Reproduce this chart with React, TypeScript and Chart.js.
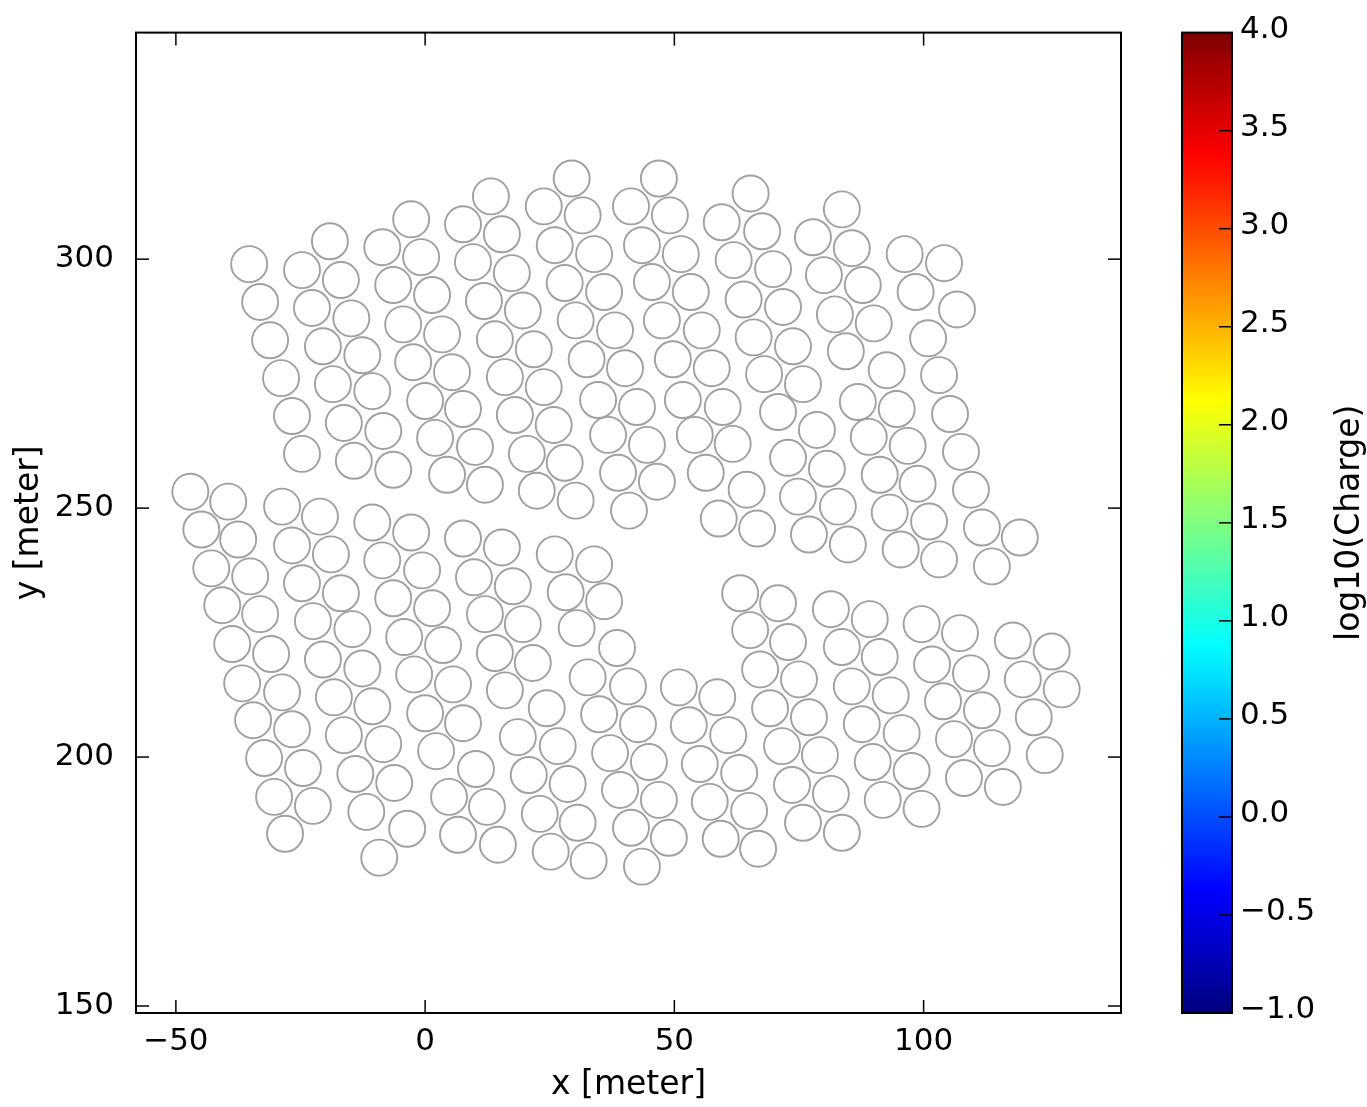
import React, { useEffect, useRef } from 'react';
import { Chart, registerables } from 'chart.js';

Chart.register(...registerables);

// Tank positions (metres), upper group of strings
const upperX = [
  -35.3, -33.1, -31.1, -28.9, -26.7, -24.7,
  -24.7, -22.7, -20.5, -18.5, -16.3, -14.3,
  -19.1, -16.9, -14.8, -12.6, -10.6, -8.4, -6.4,
  -8.6, -6.4, -4.4, -2.4, 0, 2, 4.4,
  -2.8, -0.8, 1.4, 3.4, 5.4, 7.6, 10, 12,
  7.6, 9.6, 11.8, 14, 16, 18, 20.4, 22.4,
  13.2, 15.4, 17.4, 19.6, 21.8, 23.8, 25.8, 28, 30.2,
  23.8, 26, 28, 30.2, 32.4, 34.7, 36.7, 38.7, 40.9,
  29.4, 31.6, 33.9, 35.9, 38.1, 40.1, 42.5, 44.5, 46.5,
  41.3, 43.5, 45.5, 47.5, 49.7, 51.7, 54.1, 56.3, 58.9,
  46.9, 49.1, 51.3, 53.3, 55.5, 57.5, 59.7, 61.7, 64.5, 66.6,
  59.5, 61.9, 63.9, 65.9, 68.0, 70.8, 72.8, 74.8, 77.0,
  65.3, 67.6, 69.8, 71.8, 73.8, 75.8, 78.6, 80.6, 82.8, 84.8,
  77.8, 80.0, 82.2, 84.4, 86.8, 89.0, 91.2, 93.2, 95.4,
  83.6, 85.6, 87.8, 90.0, 92.6, 94.6, 96.8, 98.8, 101.1, 103.1,
  96.2, 104.1, 98.4, 106.7, 100.9, 103.1, 105.3, 107.5, 109.5, 111.7, 113.7, 119.3,
];
const upperY = [
  299.0, 291.4, 283.7, 276.1, 268.5, 260.9,
  297.8, 290.2, 282.5, 274.9, 267.1, 259.5,
  303.6, 295.8, 288.1, 280.7, 273.5, 265.5, 257.7,
  302.4, 294.8, 286.9, 279.3, 271.5, 264.1, 256.7,
  308.0, 300.4, 292.8, 284.9, 277.3, 269.9, 262.3, 254.7,
  307.0, 299.4, 291.6, 283.9, 276.3, 268.7, 260.9, 253.5,
  312.6, 305.0, 297.2, 289.7, 281.9, 274.3, 266.7, 259.1, 251.5,
  310.6, 302.8, 295.2, 287.7, 279.9, 271.7, 264.7, 257.1, 249.5,
  316.2, 308.8, 301.0, 293.4, 285.7, 278.1, 270.3, 262.7, 255.3,
  310.6, 302.8, 295.4, 287.7, 279.9, 271.7, 264.7, 257.1, 247.9,
  316.2, 308.8, 301.0, 293.4, 285.7, 278.1, 270.3, 262.9, 253.7, 245.9,
  307.4, 299.8, 291.9, 284.3, 276.9, 269.3, 260.1, 252.3, 244.7,
  313.2, 305.6, 298.0, 290.4, 282.5, 274.9, 265.7, 257.9, 250.3, 242.7,
  304.4, 296.8, 288.9, 281.5, 271.3, 264.3, 256.7, 249.1, 241.7,
  310.0, 302.2, 294.8, 287.1, 277.7, 269.9, 262.5, 254.9, 247.3, 239.7,
  301.0, 299.2, 293.4, 289.9, 284.1, 276.7, 268.9, 261.3, 253.7, 246.1, 238.3, 244.1,
];

// Tank positions (metres), lower group of strings
const lowerX = [
  -47.1, -44.9, -42.9, -40.7, -38.7, -36.7, -34.5, -32.3, -30.3, -28.1,
  -39.5, -37.5, -35.1, -33.1, -30.9, -28.7, -26.7, -24.5, -22.5,
  -28.7, -26.7, -24.7, -22.5, -20.5, -18.3, -16.3, -14.0, -11.8, -9.2,
  -21.1, -18.9, -16.9, -14.6, -12.6, -10.6, -8.4, -6.2, -3.6,
  -10.6, -8.6, -6.4, -4.2, -2.2, 0, 2.2, 4.8, 6.6,
  -2.8, -0.6, 1.4, 3.6, 5.6, 7.6, 10.2, 12.4, 14.6,
  7.6, 9.8, 12, 14, 16, 18.6, 20.8, 23, 25.2,
  15.4, 17.6, 19.6, 21.6, 24.4, 26.6, 28.6, 30.6, 32.8,
  26, 28.2, 30.4, 32.6, 34.9, 37.1, 39.1, 41.3, 43.5,
  33.9, 35.9, 38.5, 40.7, 42.7, 44.9, 46.9, 48.9,
  50.9, 58.6, 52.9, 60.8, 55.1, 63.0, 57.1, 65.0, 59.3, 66.8,
  63.2, 70.8, 65.2, 72.8, 67.2, 75.0, 69.2, 77.0, 71.6, 79.2, 73.6, 81.4, 75.8, 83.6,
  81.4, 89.2, 83.6, 91.2, 85.6, 93.4, 87.6, 95.6, 89.8, 97.6, 91.8, 99.6,
  99.6, 107.3, 101.7, 109.5, 103.9, 111.7, 106.1, 113.7, 108.1, 115.9,
  117.9, 125.7, 119.9, 127.7, 122.1, 124.3,
];
const lowerY = [
  253.3, 245.7, 237.9, 230.5, 222.7, 214.8, 207.4, 199.8, 192.0, 184.6,
  251.3, 243.7, 236.3, 228.7, 220.7, 213.0, 205.6, 197.8, 190.2,
  250.3, 242.5, 234.9, 227.3, 219.6, 212.0, 204.4, 196.6, 189.0, 179.8,
  248.3, 240.7, 232.9, 225.7, 217.8, 210.2, 202.6, 194.8, 185.6,
  247.1, 239.5, 231.9, 224.1, 216.6, 208.8, 201.2, 192.0, 184.4,
  245.1, 237.5, 229.9, 222.5, 214.6, 206.8, 197.6, 190.0, 182.4,
  243.9, 236.1, 228.7, 220.9, 213.4, 204.0, 196.4, 188.6, 181.0,
  242.1, 234.3, 226.7, 218.9, 209.8, 202.2, 194.6, 186.8, 179.2,
  240.7, 233.1, 225.9, 216.0, 208.6, 200.8, 193.4, 185.8, 178.0,
  238.7, 231.3, 221.9, 214.2, 206.6, 199.0, 191.4, 183.8,
  214.0, 212.0, 206.4, 204.4, 198.6, 196.8, 191.0, 189.2, 183.6, 181.6,
  232.9, 230.9, 225.5, 223.1, 217.6, 215.6, 209.8, 208.0, 202.2, 200.4, 194.4, 192.6, 186.8, 184.8,
  229.7, 227.7, 222.1, 220.1, 214.2, 212.4, 206.6, 204.8, 199.0, 197.2, 191.4, 189.6,
  226.7, 224.9, 218.6, 216.8, 211.2, 209.4, 203.6, 201.8, 195.8, 194.0,
  223.4, 221.2, 215.6, 213.6, 208.0, 200.4,
];

const xTicks = [-50, 0, 50, 100];
const yTicks = [150, 200, 250, 300];
const xRange = [-58.0, 139.6];
const yRange = [148.6, 345.5];
const cbTicks = [-1.0, -0.5, 0.0, 0.5, 1.0, 1.5, 2.0, 2.5, 3.0, 3.5, 4.0];
const cbRange = [-1.0, 4.0];
const xLabel = 'x [meter]';
const yLabel = 'y [meter]';
const cbLabel = 'log10(Charge)';

const FONT = "'DejaVu Sans', sans-serif";
const fmt = (v: number, dec = 0) => (v < 0 ? '\u2212' : '') + Math.abs(v).toFixed(dec);

function jet(t: number): string {
  const c = (v: number) => Math.round(255 * Math.max(0, Math.min(1, v)));
  const r = c(1.5 - Math.abs(4 * t - 3));
  const g = c(1.5 - Math.abs(4 * t - 2));
  const b = c(1.5 - Math.abs(4 * t - 1));
  return `rgb(${r},${g},${b})`;
}

const decorPlugin = {
  id: 'decor',
  afterDraw(chart: any) {
    const { ctx, chartArea: a } = chart;
    const sx = chart.scales.x;
    const sy = chart.scales.y;
    const L = 13;
    ctx.save();
    ctx.strokeStyle = '#000';
    ctx.lineWidth = 1.5;
    const seg = (x1: number, y1: number, x2: number, y2: number) => {
      ctx.beginPath();
      ctx.moveTo(x1, y1);
      ctx.lineTo(x2, y2);
      ctx.stroke();
    };
    sx.ticks.forEach((t: any) => {
      const p = sx.getPixelForValue(t.value);
      seg(p, a.bottom, p, a.bottom - L);
      seg(p, a.top, p, a.top + L);
    });
    sy.ticks.forEach((t: any) => {
      const p = sy.getPixelForValue(t.value);
      seg(a.left, p, a.left + L, p);
      seg(a.right, p, a.right - L, p);
    });
    ctx.lineWidth = 2;
    ctx.strokeRect(a.left, a.top, a.right - a.left, a.bottom - a.top);

    // colorbar
    const cbL = 1182, cbR = 1232, cbT = a.top, cbB = a.bottom;
    const grad = ctx.createLinearGradient(0, cbB, 0, cbT);
    for (let i = 0; i <= 64; i++) grad.addColorStop(i / 64, jet(i / 64));
    ctx.fillStyle = grad;
    ctx.fillRect(cbL, cbT, cbR - cbL, cbB - cbT);
    ctx.lineWidth = 2;
    ctx.strokeRect(cbL, cbT, cbR - cbL, cbB - cbT);
    ctx.lineWidth = 1.5;
    ctx.fillStyle = '#000';
    ctx.font = `31px ${FONT}`;
    ctx.textAlign = 'left';
    ctx.textBaseline = 'middle';
    cbTicks.forEach((v) => {
      const p = cbB - ((v - cbRange[0]) / (cbRange[1] - cbRange[0])) * (cbB - cbT);
      if (v > cbRange[0] && v < cbRange[1]) seg(cbR, p, cbR - L, p);
      ctx.fillText(fmt(v, 1), cbR + 8, p - 3);
    });
    ctx.font = `33px ${FONT}`;
    ctx.translate(1350, (cbT + cbB) / 2);
    ctx.rotate(-Math.PI / 2);
    ctx.textAlign = 'center';
    ctx.fillText(cbLabel, 0, 0);
    ctx.restore();
  },
};

export default function App() {
  const ref = useRef<HTMLCanvasElement>(null);
  useEffect(() => {
    if (!ref.current) return;
    const pts = (xs: number[], ys: number[]) => xs.map((x, i) => ({ x, y: ys[i] }));
    const ds = (data: any) => ({
      data,
      showLine: false,
      pointRadius: 18,
      pointHoverRadius: 18,
      pointBorderWidth: 1.9,
      pointBorderColor: '#a0a0a0',
      pointBackgroundColor: 'rgba(0,0,0,0)',
    });
    const chart = new Chart(ref.current, {
      type: 'scatter',
      data: { datasets: [ds(pts(upperX, upperY)), ds(pts(lowerX, lowerY))] },
      options: {
        animation: false,
        responsive: false,
        events: [],
        layout: { padding: { top: 30, right: 246, left: 0, bottom: 0 } },
        plugins: { legend: { display: false }, tooltip: { enabled: false } },
        scales: {
          x: {
            type: 'linear',
            min: xRange[0],
            max: xRange[1],
            grid: { display: false },
            border: { display: false },
            afterBuildTicks: (s: any) => { s.ticks = xTicks.map((value) => ({ value })); },
            afterFit: (s: any) => { s.height = 94; },
            ticks: {
              font: { family: FONT, size: 31 },
              color: '#000',
              padding: 2,
              maxRotation: 0,
              callback: (v: any) => fmt(Number(v)),
            },
            title: { display: true, text: xLabel, color: '#000', font: { family: FONT, size: 33 }, padding: { top: 0, bottom: 2 } },
          },
          y: {
            type: 'linear',
            min: yRange[0],
            max: yRange[1],
            grid: { display: false },
            border: { display: false },
            afterBuildTicks: (s: any) => { s.ticks = yTicks.map((value) => ({ value })); },
            afterFit: (s: any) => { s.width = 136; },
            ticks: {
              font: { family: FONT, size: 31 },
              color: '#000',
              padding: 14,
              callback: (v: any) => fmt(Number(v)),
            },
            title: { display: true, text: yLabel, color: '#000', font: { family: FONT, size: 33 }, padding: { top: 10, bottom: 0 } },
          },
        },
      },
      plugins: [decorPlugin],
    });
    return () => chart.destroy();
  }, []);
  return (
    <div style={{ position: 'fixed', left: 0, top: 0, width: 1367, height: 1107, background: '#fff' }}>
      <canvas ref={ref} width={1367} height={1107} style={{ width: 1367, height: 1107, display: 'block' }} />
    </div>
  );
}
